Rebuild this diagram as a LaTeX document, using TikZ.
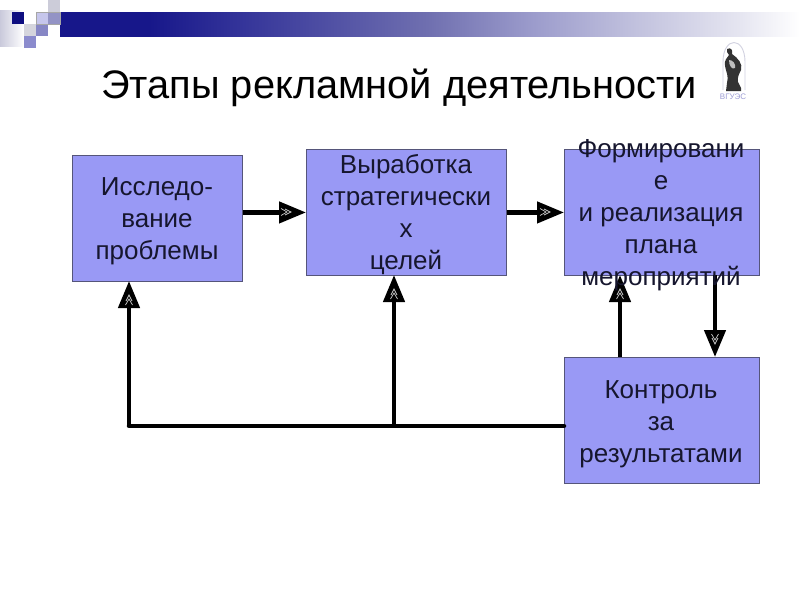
\documentclass[tikz,border=0pt]{standalone}
\usepackage{fontspec}
\setmainfont{Liberation Sans}
\usetikzlibrary{arrows.meta,calc}
\definecolor{boxfill}{HTML}{9999F5}
\definecolor{boxline}{HTML}{55557A}
\definecolor{bannerdark}{HTML}{17178A}
\definecolor{bannerb}{HTML}{333399}
\definecolor{bannerc}{HTML}{7070B0}
\definecolor{bannerd}{HTML}{9C9CCC}
\definecolor{bannere}{HTML}{C2C2DE}
\definecolor{bannerf}{HTML}{E6E6F1}
\definecolor{sqdark}{HTML}{0E0E80}
\definecolor{textdark}{HTML}{16162E}
\tikzset{
  x=1pt,y=-1pt,
  stagebox/.style={draw=boxline,line width=0.9pt,fill=boxfill,anchor=north west,inner sep=0pt},
  stagetext/.style={align=center,inner sep=0pt,font=\fontsize{26}{32}\selectfont,text=textdark},
  flow/.style={line width=4.5pt,draw=black,-{Triangle[length=27pt,width=21pt]}},
  plain/.style={line width=4.5pt,draw=black,line cap=round},
  tipmark/.style={draw=white!80!black,line width=0.7pt,fill=none},
}
% the path box covers 25bp to 75bp of the shading
\pgfdeclarehorizontalshading{bannershade}{100bp}{
  color(0bp)=(bannerdark);color(31bp)=(bannerdark);color(37bp)=(bannerb);
  color(50bp)=(bannerc);color(57bp)=(bannerd);color(64bp)=(bannere);color(71bp)=(bannerf);color(75bp)=(white);color(100bp)=(white)}
\begin{document}
\begin{tikzpicture}
\useasboundingbox (0,0) rectangle (800,600);
\fill[white] (0,0) rectangle (800,600);
% banner
\path[shading=bannershade] (60,12) rectangle (800,36);
% decorative squares
\shade[left color=blue!20!gray!35!white,right color=white] (0,10) rectangle (24,46);
\fill[white] (24,12) rectangle (36,24);
\fill[sqdark] (11.5,11.5) rectangle (24,24);
\fill[blue!15!gray!35!white] (48,0) rectangle (60,12);
\fill[blue!30!gray!65!white] (48,12) rectangle (60,24);
\fill[blue!50!gray!30!white] (36,12) rectangle (48,24);
\fill[blue!35!gray!70!white] (36,24) rectangle (48,36);
\fill[blue!10!gray!30!white] (24,24) rectangle (36,36);
\fill[blue!40!gray!65!white] (24,36) rectangle (36,48);
\draw[gray!70,line width=0.6pt] (36,12) rectangle (60,24);
% title
\node[anchor=base west,inner sep=0pt,font=\fontsize{39.8}{42}\selectfont] (title) at (101,98.5) {Этапы рекламной деятельности};
% logo
\draw[blue!20!gray!30!white,line width=0.9pt] (723,90) -- (723,62) .. controls (723,36) and (745,36) .. (745,62) -- (745,90);
\fill[black!80] (727,49) .. controls (731,47) and (733,50) .. (732,54) .. controls (738,58) and (743,64) .. (741,70) .. controls (739,74) and (737,78) .. (738,82) -- (741,88) -- (741,91) -- (726,91) -- (727,83) .. controls (729,76) and (726,72) .. (725,66) .. controls (724,60) and (727,58) .. (729,55) -- (727,52) -- cycle;
\fill[white!75!black] (729,60) .. controls (733,60) and (736,64) .. (735,68) .. controls (732,70) and (729,66) .. (729,60);
\node[font=\fontsize{8}{9}\selectfont,text=blue!40!gray!55!white,inner sep=0pt] (logotext) at (733,97) {ВГУЭС};
% boxes
\node[stagebox,minimum width=170pt,minimum height=126pt] (A) at (72,155) {};
\node[stagebox,minimum width=200pt,minimum height=126pt] (B) at (306,149) {};
\node[stagebox,minimum width=195pt,minimum height=126pt] (C) at (564,149) {};
\node[stagebox,minimum width=195pt,minimum height=126pt] (D) at (564,357) {};
\coordinate (Dup) at (620,357);
\coordinate (Cup) at (620,275);
\coordinate (Cdown) at (715,275);
\coordinate (Ddown) at (715,357);
\coordinate (Aup) at (129,281);
\coordinate (Bup) at (394,275);
\coordinate (corner) at (129,426);
\coordinate (junction) at (394,426);
\coordinate (Dleft) at (564,426);
% connectors
\draw[flow] (A.east |- B.west) -- (B.west);
\draw[flow] (B.east) -- (C.west);
\draw[flow] (Dup) -- (Cup);
\draw[flow] (Cdown) -- (Ddown);
\draw[plain] (Dleft) -- (corner);
\draw[flow] (corner) -- (Aup);
\draw[flow] (junction) -- (Bup);
% white marks inside arrowheads
\foreach \p/\r in {{(286,212)}/0,{(545,212)}/0,{(620,294)}/90,{(715,339)}/-90,{(129,300)}/90,{(394,294)}/90}{
  \draw[tipmark,shift={\p},rotate=\r] (-5,-3.5) -- (1,0) -- (-5,3.5) (-1,-3) -- (5,0) -- (-1,3);
}
% texts
\node[stagetext] (Atext) at (157,221) {Исследо-\\вание\\проблемы};
\node[stagetext] (Btext) at (406,215) {Выработка\\стратегически\\х\\целей};
\node[stagetext] (Ctext) at (661,215.5) {Формировани\\е\\и реализация\\плана\\мероприятий};
\node[stagetext] (Dtext) at (661,424) {Контроль\\за\\результатами};
\end{tikzpicture}
\end{document}
